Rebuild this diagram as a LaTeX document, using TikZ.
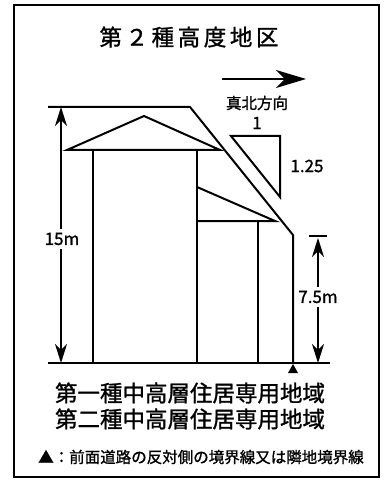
\documentclass[tikz,border=0pt]{standalone}
\usepackage{fontspec}
\setmainfont{Noto Sans CJK JP}[FakeBold=1.2]
\newfontfamily\titlefont{Noto Sans CJK JP}[LetterSpace=16,FakeBold=1.2]
\usetikzlibrary{arrows.meta}
\tikzset{
  dimtip/.style={-{Stealth[length=19pt,width=12pt,inset=6pt]}},
  northtip/.style={-{Stealth[length=30pt,width=18pt,inset=9pt]}},
  dimlabel/.style={inner sep=3pt,font=\fontsize{17}{17}\selectfont},
}
\begin{document}
\begin{tikzpicture}[x=1pt,y=-1pt,line width=2pt]
            \useasboundingbox (0,0) rectangle (384,481);
            % Frame and title
            \draw (14,5) rectangle (379,477);
            \node (title) at (189,37) {\titlefont\fontsize{22.5}{22.5}\selectfont 第２種高度地区};

            % Ground and height limit line
            \coordinate (g1) at (48,363);
            \coordinate (g2) at (330,363);
            \coordinate (t1) at (48,107);
            \coordinate (t2) at (190,107);
            \coordinate (bend) at (293,235);
            \coordinate (foot) at (293,363);
            \draw (g1) -- (g2);
            \draw (t1) -- (t2) -- (bend) -- (foot);
            \fill (foot) ++(0,1) -- ++(5,9) -- ++(-10,0) -- cycle;

            % Tall house
            \coordinate (apex) at (144,116);
            \coordinate (eaveL) at (67,150);
            \coordinate (eaveR) at (220,150);
            \draw (eaveL) -- (apex) -- (eaveR) -- cycle;
            \draw (93,150) -- (93,363);
            \draw (197,150) -- (197,363);

            % Low house
            \coordinate (ridge) at (197,187);
            \coordinate (eaveS) at (275,221);
            \draw (ridge) -- (eaveS) -- (197,221);
            \draw (258,221) -- (258,363);

            % Slope 1 : 1.25
            \coordinate (s1) at (231,136);
            \coordinate (s2) at (280,136);
            \coordinate (s3) at (280,197);
            \draw (s1) -- (s2) -- (s3) -- cycle;
            \node (run) at (257,123) {\fontsize{17}{17}\selectfont 1};
            \node (rise) at (307,166) {\fontsize{17}{17}\selectfont 1.25};

            % North
            \coordinate (n1) at (222,79);
            \coordinate (n2) at (306,79);
            \draw[northtip] (n1) -- (n2);
            \node (north) at (257,103) {\fontsize{15.5}{15.5}\selectfont 真北方向};

            % Dimensions
            \node[dimlabel] (h15) at (62,239) {15m};
            \coordinate (h15top) at (61,107);
            \coordinate (h15bot) at (61,363);
            \draw[dimtip] (h15.north -| h15top) -- (h15top);
            \draw[dimtip] (h15.south -| h15bot) -- (h15bot);

            \node[dimlabel] (h75) at (318,297) {7.5m};
            \coordinate (h75top) at (318,238);
            \coordinate (h75bot) at (318,363);
            \draw[line width=1.5pt] (309,236) -- (327,236);
            \draw[dimtip] (h75.north -| h75top) -- (h75top);
            \draw[dimtip] (h75.south -| h75bot) -- (h75bot);

            % Zone names and note
            \node (zone1) at (190,393) {\fontsize{22.5}{22.5}\selectfont 第一種中高層住居専用地域};
            \node (zone2) at (190,419) {\fontsize{22.5}{22.5}\selectfont 第二種中高層住居専用地域};
            \node (note) at (201,457) {\fontsize{15.5}{15.5}\selectfont ▲：前面道路の反対側の境界線又は隣地境界線};
        \end{tikzpicture}
\end{document}
